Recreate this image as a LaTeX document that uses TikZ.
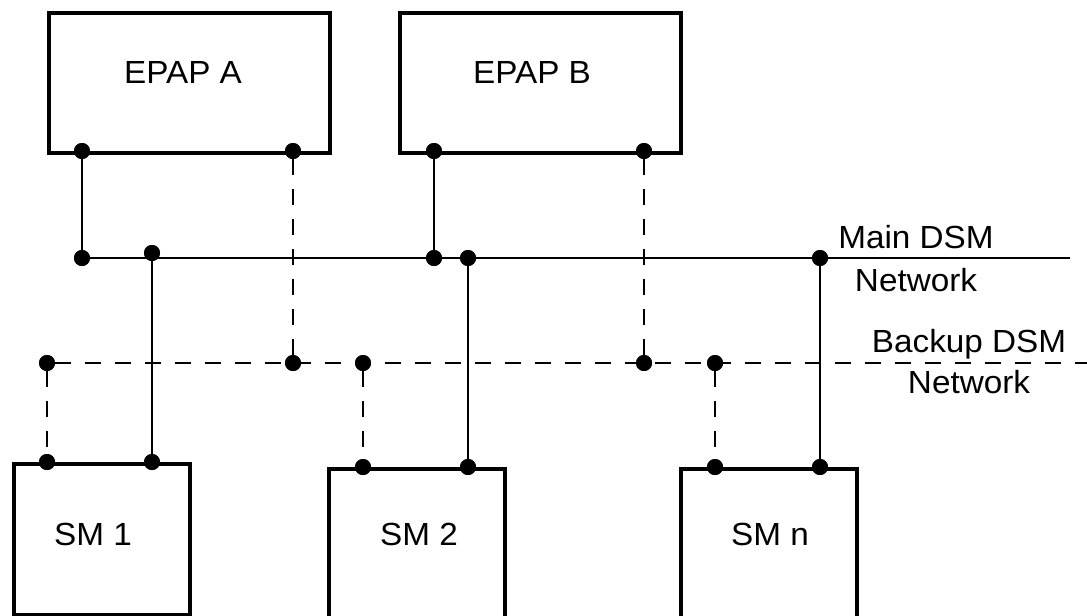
\documentclass[tikz,border=0pt]{standalone}
\usepackage{fontspec}
\setmainfont{Liberation Sans}[FakeStretch=1.04]
\tikzset{
  box/.style={draw, line width=3pt, inner sep=0pt, anchor=north west},
  dot/.style={circle, fill=black, inner sep=0pt, minimum size=12pt},
  mainline/.style={line width=1.5pt},
  backline/.style={line width=1.5pt, dash pattern=on 11.5pt off 11pt},
  lbl/.style={anchor=base, inner sep=0pt, font=\fontsize{24}{28}\selectfont},
}
\begin{document}
\begin{tikzpicture}[x=0.75pt, y=-0.75pt]
\useasboundingbox (0,0) rectangle (1087,615);
\fill[white] (0,0) rectangle (1087,615);
\clip (0,0) rectangle (1087,615);

% boxes
\node[box, minimum width=281*0.75pt, minimum height=140*0.75pt] (epapA) at (47,11) {};
\node[box, minimum width=281*0.75pt, minimum height=140*0.75pt] (epapB) at (398,11) {};
\node[box, minimum width=176*0.75pt, minimum height=151*0.75pt] (sm1) at (12,462) {};
\node[box, minimum width=176*0.75pt, minimum height=160*0.75pt] (sm2) at (327,467) {};
\node[box, minimum width=176*0.75pt, minimum height=160*0.75pt] (smn) at (679,467) {};

% box labels
\node[lbl] (tA) at (183,83) {EPAP A};
\node[lbl] (tB) at (532,83) {EPAP B};
\node[lbl] (t1) at (93,545) {SM 1};
\node[lbl] (t2) at (419,545) {SM 2};
\node[lbl] (tn) at (770,545) {SM n};

% network labels
\node[lbl] (mainA) at (916,248) {Main DSM};
\node[lbl] (mainB) at (916,291) {Network};
\node[lbl] (backA) at (969,352) {Backup DSM};
\node[lbl] (backB) at (969,393) {Network};

% ports on boxes
\node[dot] (a1) at (82,151) {};
\node[dot] (a2) at (293,151) {};
\node[dot] (bb1) at (434,151) {};
\node[dot] (bb2) at (644,151) {};
\node[dot] (s1a) at (47,462) {};
\node[dot] (s1b) at (152,462) {};
\node[dot] (s2a) at (363,467) {};
\node[dot] (s2b) at (468,467) {};
\node[dot] (sna) at (715,467) {};
\node[dot] (snb) at (820,467) {};

% junctions on main network
\node[dot] (m1) at (82,258) {};
\node[dot] (m2) at (152,253) {};
\node[dot] (m3) at (434,258) {};
\node[dot] (m4) at (468,258) {};
\node[dot] (m5) at (820,258) {};
\coordinate (mEnd) at (1070,258);

% junctions on backup network
\node[dot] (b1) at (47,363) {};
\node[dot] (b2) at (293,363) {};
\node[dot] (b3) at (363,363) {};
\node[dot] (b4) at (644,363) {};
\node[dot] (b5) at (715,363) {};
\coordinate (bEnd) at (1090,363);

% main network
\draw[mainline] (m1.center) -- (mEnd);
\draw[mainline] (a1.center) -- (m1.center);
\draw[mainline] (bb1.center) -- (m3.center);
\draw[mainline] (s1b.center) -- (m2.center);
\draw[mainline] (s2b.center) -- (m4.center);
\draw[mainline] (snb.center) -- (m5.center);

% backup network
\draw[backline] (b1.east) -- (bEnd);
\draw[backline] (a2.south) -- (b2.north);
\draw[backline] (bb2.south) -- (b4.north);
\draw[backline] (b1.south) -- (s1a.north);
\draw[backline] (b3.south) -- (s2a.north);
\draw[backline] (b5.south) -- (sna.north);

% redraw dots on top
\foreach \n in {a1,a2,bb1,bb2,s1a,s1b,s2a,s2b,sna,snb,m1,m2,m3,m4,m5,b1,b2,b3,b4,b5}
  \fill (\n.center) circle (6pt);
\end{tikzpicture}
\end{document}
